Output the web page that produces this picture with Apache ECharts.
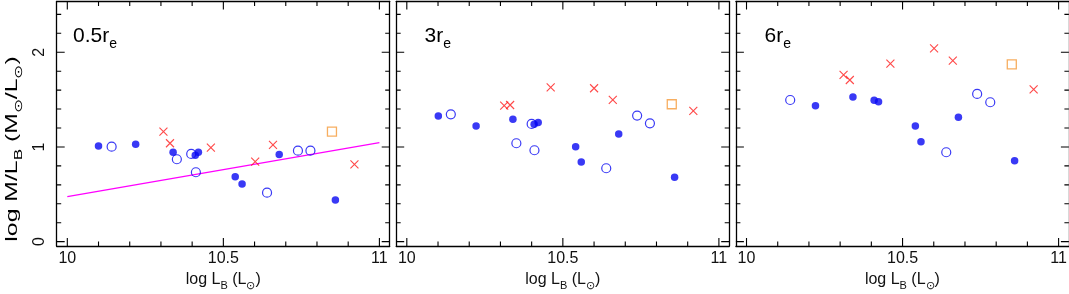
<!DOCTYPE html>
<html><head><meta charset="utf-8">
<script src="https://cdn.jsdelivr.net/npm/echarts@6/dist/echarts.min.js"></script>
<style>html,body{margin:0;padding:0;background:#fff}#c{width:1069px;height:294px}</style>
</head><body><div id="c"></div>
<script>
// ---- tick values ----
const xMajorTicks = [10, 10.5, 11];
const xMinorTicks = [10.1, 10.2, 10.3, 10.4, 10.6, 10.7, 10.8, 10.9];
const yMajorTicks = [0, 1, 2];
const yMinorTicks = [0.2, 0.4, 0.6, 0.8, 1.2, 1.4, 1.6, 1.8, 2.2, 2.4];
const panelNames = ['0.5', '3', '6'];

// ---- panel 0.5 r_e ----
const filled05 = [[10.10,1.01],[10.219,1.028],[10.339,0.944],[10.410,0.912],[10.420,0.944],[10.538,0.686],[10.560,0.609],[10.679,0.919],[10.859,0.440]];
const open05 = [[10.142,1.003],[10.351,0.870],[10.397,0.926],[10.412,0.733],[10.640,0.517],[10.739,0.961],[10.779,0.961]];
const cross05 = [[10.308,1.162],[10.329,1.039],[10.460,0.993],[10.602,0.845],[10.659,1.021],[10.920,0.817]];
const square05 = [[10.848,1.162]];
const fit05 = [[10,0.475],[11,1.045]];

// ---- panel 3 r_e ----
const filled3 = [[10.101,1.327],[10.222,1.222],[10.340,1.292],[10.408,1.240],[10.421,1.257],[10.541,1.003],[10.559,0.842],[10.679,1.137],[10.858,0.680]];
const open3 = [[10.141,1.345],[10.351,1.039],[10.400,1.243],[10.409,0.965],[10.639,0.775],[10.738,1.331],[10.779,1.250]];
const cross3 = [[10.312,1.436],[10.331,1.443],[10.461,1.630],[10.600,1.620],[10.660,1.496],[10.918,1.380]];
const square3 = [[10.849,1.451]];

// ---- panel 6 r_e ----
const filled6 = [[10.221,1.436],[10.341,1.528],[10.409,1.493],[10.423,1.478],[10.541,1.222],[10.559,1.056],[10.679,1.314],[10.859,0.855]];
const open6 = [[10.140,1.496],[10.640,0.944],[10.739,1.560],[10.781,1.472]];
const cross6 = [[10.311,1.760],[10.331,1.707],[10.461,1.880],[10.601,2.042],[10.661,1.911],[10.920,1.609]];
const square6 = [[10.850,1.873]];

const panels = [
  {filled: filled05, open: open05, cross: cross05, square: square05, fit: fit05},
  {filled: filled3, open: open3, cross: cross3, square: square3, fit: null},
  {filled: filled6, open: open6, cross: cross6, square: square6, fit: null}
];

// ---- layout ----
const X_MIN = 9.966, X_MAX = 11.033, Y_MIN = -0.046, Y_MAX = 2.536;
const gridLefts = [56.7, 396.2, 735.9];
const GRID_W = 333, GRID_TOP = 1.5, GRID_H = 244.5;
const FONT = '"Liberation Sans", Arial, Helvetica, sans-serif';
const BLUE = '#0808f2', RED = '#ff1a1a', MAGENTA = '#ff00ff', ORANGE = '#f59a38';
const MAJOR_PX = 8, MINOR_PX = 4.5;
// pixel lengths expressed in axis units of the scales above
const PX_PER_X = GRID_W / (X_MAX - X_MIN), PX_PER_Y = GRID_H / (Y_MAX - Y_MIN);

const grids = [], xAxes = [], yAxes = [], series = [], graphics = [];

const subRich = {
  n: {fontSize: 16, fontFamily: FONT, color: '#111', lineHeight: 24, verticalAlign: 'middle'},
  s: {fontSize: 11, fontFamily: FONT, color: '#111', lineHeight: 8, verticalAlign: 'bottom'}
};
function frameLine() { return {show: true, onZero: false, lineStyle: {color: '#000', width: 1.3}}; }
function hidden() { return {show: false}; }

// build broken polylines (segments separated by gaps) for tick marks
function xTickSegs(vals, px) {
  const d = px / PX_PER_Y, out = [];
  vals.forEach(v => { out.push([v, Y_MIN], [v, Y_MIN + d], '-', [v, Y_MAX], [v, Y_MAX - d], '-'); });
  return out;
}
function yTickSegs(vals, px) {
  const d = px / PX_PER_X, out = [];
  vals.forEach(v => { out.push([X_MIN, v], [X_MIN + d, v], '-', [X_MAX, v], [X_MAX - d, v], '-'); });
  return out;
}

panels.forEach((p, gi) => {
  grids.push({left: gridLefts[gi], top: GRID_TOP, width: GRID_W, height: GRID_H, outerBoundsMode: 'none'});
  xAxes.push({type: 'value', gridIndex: gi, min: X_MIN, max: X_MAX, position: 'bottom', silent: true,
    axisLine: frameLine(), axisTick: hidden(), splitLine: hidden(),
    axisLabel: {show: true, customValues: xMajorTicks, margin: 5, fontSize: 16, fontFamily: FONT, color: '#111'},
    name: '{n|log L}{s|B}{n| (L}{s|⊙}{n|)}', nameLocation: 'middle', nameGap: 19, nameTextStyle: {rich: subRich}});
  xAxes.push({type: 'value', gridIndex: gi, min: X_MIN, max: X_MAX, position: 'top', silent: true,
    axisLine: frameLine(), axisTick: hidden(), axisLabel: hidden(), splitLine: hidden()});
  yAxes.push({type: 'value', gridIndex: gi, min: Y_MIN, max: Y_MAX, position: 'left', silent: true,
    axisLine: frameLine(), axisTick: hidden(), splitLine: hidden(),
    axisLabel: gi === 0 ? {show: true, customValues: yMajorTicks, rotate: 90, margin: 9, fontSize: 16, fontFamily: FONT, color: '#111'} : hidden()});
  yAxes.push({type: 'value', gridIndex: gi, min: Y_MIN, max: Y_MAX, position: 'right', silent: true,
    axisLine: frameLine(), axisTick: hidden(), axisLabel: hidden(), splitLine: hidden()});

  const xi = gi * 2, yi = gi * 2;
  const lineBase = {type: 'line', xAxisIndex: xi, yAxisIndex: yi, showSymbol: false, symbol: 'none', silent: true,
    animation: false, connectNulls: false, clip: false, z: 4, lineStyle: {color: '#000', width: 1.1}};
  const tickData = [].concat(xTickSegs(xMajorTicks, MAJOR_PX), xTickSegs(xMinorTicks, MINOR_PX),
                             yTickSegs(yMajorTicks, MAJOR_PX), yTickSegs(yMinorTicks, MINOR_PX));
  series.push(Object.assign({}, lineBase, {data: tickData}));

  const base = {type: 'scatter', xAxisIndex: xi, yAxisIndex: yi, silent: true, emphasis: {disabled: true}, animation: false};
  if (p.fit) {
    series.push({type: 'line', xAxisIndex: xi, yAxisIndex: yi, data: p.fit, showSymbol: false, symbol: 'none', silent: true, animation: false,
      lineStyle: {color: MAGENTA, width: 1.3}, z: 1});
  }
  series.push(Object.assign({}, base, {data: p.filled, symbol: 'circle', symbolSize: 7.5, itemStyle: {color: BLUE}, z: 3}));
  series.push(Object.assign({}, base, {data: p.open, symbol: 'circle', symbolSize: 9,
    itemStyle: {color: 'rgba(0,0,0,0)', borderColor: BLUE, borderWidth: 1.2}, z: 3}));
  series.push(Object.assign({}, base, {data: p.cross, symbol: 'path://M0,0L10,10M10,0L0,10', symbolSize: 8,
    itemStyle: {color: 'rgba(0,0,0,0)', borderColor: RED, borderWidth: 1.1}, z: 3}));
  series.push(Object.assign({}, base, {data: p.square, symbol: 'rect', symbolSize: 9,
    itemStyle: {color: 'rgba(0,0,0,0)', borderColor: ORANGE, borderWidth: 1.3}, z: 3}));
});

const labelX = [73, 424.5, 764.5];
panelNames.forEach((name, gi) => {
  graphics.push({
    type: 'text', x: labelX[gi], y: 36, silent: true,
    style: {
      text: '{n|' + name + 'r}{s|e}',
      align: 'left', verticalAlign: 'middle',
      rich: {
        n: {fontSize: 21, fontFamily: FONT, color: '#111', lineHeight: 30, verticalAlign: 'middle'},
        s: {fontSize: 14, fontFamily: FONT, color: '#111', lineHeight: 6, verticalAlign: 'bottom'}
      }
    }
  });
});

graphics.push({
  type: 'text', x: 12.5, y: 149, rotation: Math.PI / 2, scaleX: 1.55, silent: true,
  style: {
    text: '{n|log M/L}{s|B}{n| (M}{s|⊙}{n|/L}{s|⊙}{n|)}',
    align: 'center', verticalAlign: 'middle',
    rich: subRich
  }
});

const chart = echarts.init(document.getElementById('c'), null, {renderer: 'canvas'});
chart.setOption({
  animation: false,
  backgroundColor: '#fff',
  grid: grids, xAxis: xAxes, yAxis: yAxes, series: series, graphic: graphics
});
</script>
</body></html>
